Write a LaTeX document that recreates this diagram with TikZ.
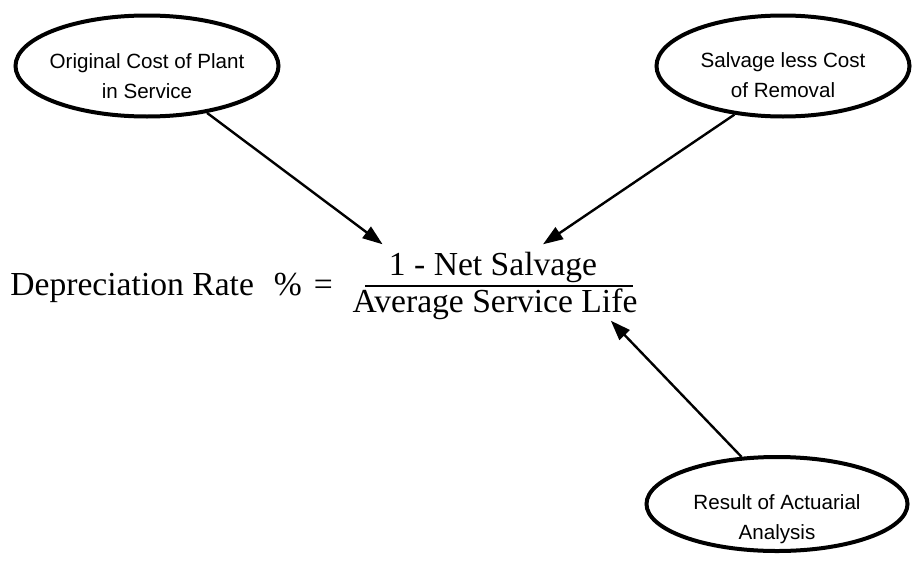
\documentclass[tikz,border=0pt]{standalone}
\usepackage{fontspec}
\setmainfont{Liberation Serif}
\newfontfamily\arialfont{Liberation Sans}
\usetikzlibrary{shapes,arrows.meta,positioning,calc}

\begin{document}
\begin{tikzpicture}[x=0.5pt, y=-0.5pt,
    bubble/.style={ellipse, draw, line width=2pt, inner sep=0pt},
    bubtext/.style={align=center, inner sep=0pt, font=\arialfont\fontsize{10.3}{15}\selectfont},
    eqn/.style={inner sep=0pt, font=\fontsize{16.8}{20}\selectfont},
    link/.style={-{Triangle[length=10pt,width=7pt]}, line width=1.2pt}]

    \useasboundingbox (0,0) rectangle (914,562);

    % Input ellipses
    \node[bubble, minimum width=131.5pt, minimum height=50.5pt] (cost) at (147,66) {};
    \node[bubble, minimum width=126.5pt, minimum height=50.5pt] (salvage) at (783,66) {};
    \node[bubble, minimum width=130.5pt, minimum height=47pt] (study) at (777,504) {};
    \node[bubtext] (costtxt) at (147,76) {Original Cost of Plant\\in Service};
    \node[bubtext] (salvagetxt) at (783,75) {Salvage less Cost\\of Removal};
    \node[bubtext] (studytxt) at (777,519) {Result of Actuarial\\Analysis};

    % Formula
    \node[eqn, anchor=base west] (lhs) at (10,295) {Depreciation Rate\hspace{10pt}\%\hspace{6pt}=};
    \node[eqn, anchor=base] (num) at (493,275) {1 - Net Salvage};
    \node[eqn, anchor=base] (den) at (495,312) {Average Service Life};
    \coordinate (barL) at (365,286);
    \coordinate (barR) at (633,286);
    \draw[line width=1pt] (barL) -- (barR);

    % Arrows into the formula
    \draw[link] (cost.-38) -- ($(num.north west)+(-6,-7)$);
    \draw[link] (salvage.-135) -- ($(num.north)+(50,-7)$);
    \draw[link] (study.127) -- ($(den.south east)+(-27,1)$);

\end{tikzpicture}
\end{document}
